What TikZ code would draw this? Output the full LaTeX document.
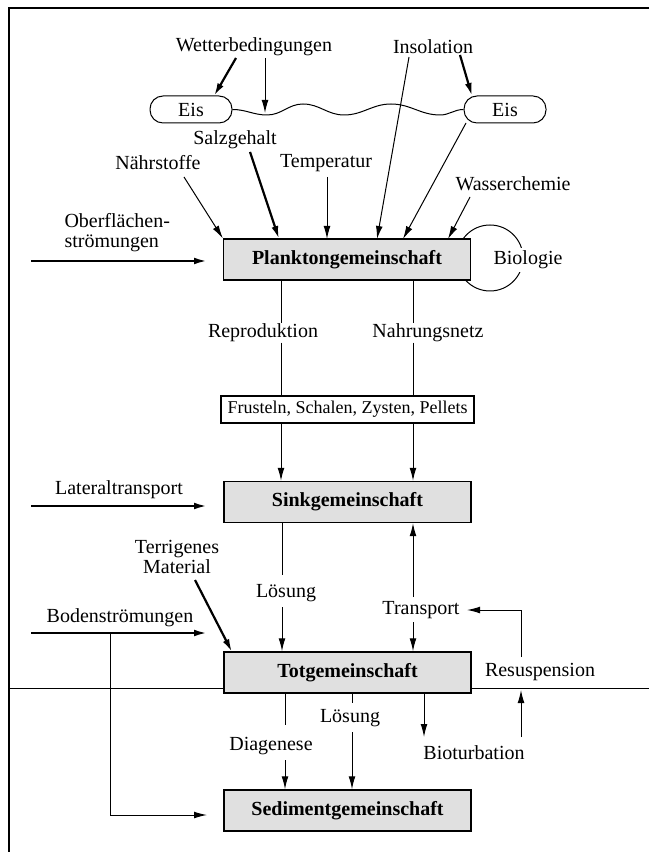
\documentclass[tikz,border=0pt]{standalone}
\usepackage{fontspec}
\setmainfont{Liberation Serif}
\usetikzlibrary{arrows.meta,calc}
\begin{document}
\begin{tikzpicture}[x=0.5pt,y=-0.5pt,
  >={Latex[length=6.5pt,width=3.4pt]},
  every node/.style={font=\fontsize{10}{10}\selectfont, inner sep=0pt},
  every path/.style={line width=0.5pt},
  thickline/.style={line width=1.1pt},
  framel/.style={line width=0.8pt},
  box/.style={draw, line width=0.7pt, fill=black!12, minimum width=123.5pt, minimum height=20.5pt, font=\bfseries\fontsize{10}{10}\selectfont},
  smallbox/.style={draw, line width=0.6pt, fill=white, minimum width=126.5pt, minimum height=13.5pt, font=\fontsize{9}{10}\selectfont},
  eis/.style={draw, line width=0.5pt, rounded corners=6.5pt, minimum width=41pt, minimum height=13.5pt},
  lab/.style={align=center},
]
\useasboundingbox (0,0) rectangle (649,854);
% frame and ground line
\coordinate (tr) at (649,8);
\coordinate (tl) at (9,8);
\coordinate (bl) at (9,852);
\draw[framel] (tr) -- (tl) -- (bl);
\coordinate (gL) at (9,688);
\coordinate (gR) at (649,688);
\draw (gL) -- (gR);
% biology loop
\node[circle, draw, line width=0.5pt, minimum size=33pt] (bioc) at (490,258) {};
\node[fill=white, inner sep=1.5pt] (bio) at (528,260) {Biologie};
% column coordinates
\coordinate (cA) at (281,0);
\coordinate (cB) at (413,0);
\coordinate (cL) at (282,0);
\coordinate (cD) at (285,0);
\coordinate (cE) at (352,0);
\coordinate (cF) at (424,0);
\coordinate (cR) at (521,0);
% boxes
\node[box] (plankton) at (347,259.5) {Planktongemeinschaft};
\node[smallbox] (frust) at (347.5,409.5) {Frusteln, Schalen, Zysten, Pellets};
\node[box] (sink) at (347.5,502) {Sinkgemeinschaft};
\node[box] (tot) at (347.5,672.5) {Totgemeinschaft};
\node[box] (sed) at (347.5,810.5) {Sedimentgemeinschaft};
% ice
\node[eis] (eisL) at (191,109.5) {Eis};
\node[eis] (eisR) at (505,109.5) {Eis};
\coordinate (w1) at (267,115);
\coordinate (w2) at (303,104);
\coordinate (w3) at (344,115);
\coordinate (w4) at (391,104);
\coordinate (w5) at (440,115);
\draw (eisL.east) to[out=0,in=180] (w1) to[out=0,in=180] (w2) to[out=0,in=180] (w3)
  to[out=0,in=180] (w4) to[out=0,in=180] (w5) to[out=0,in=180] (eisR.west);
% labels
\node (wetter) at (254,47) {Wetterbedingungen};
\node (insol) at (433,47) {Insolation};
\node (salz) at (235,140) {Salzgehalt};
\node (naehr) at (158,163) {Nährstoffe};
\node (temp) at (326,163) {Temperatur};
\node (wasser) at (513,184) {Wasserchemie};
\node[align=left, anchor=west] (ober) at (64,233) {Oberflächen-\\strömungen};
\node (repro) at (263,333) {Reproduktion};
\node (nahr) at (428,333) {Nahrungsnetz};
\node (lat) at (119,490) {Lateraltransport};
\node[lab] (terr) at (177,557) {Terrigenes\\Material};
\node (loes1) at (286,593) {Lösung};
\node (trans) at (421,610) {Transport};
\node (boden) at (120,618) {Bodenströmungen};
\node (resus) at (540,672) {Resuspension};
\node (loes2) at (350,718) {Lösung};
\node (diag) at (271,746) {Diagenese};
\node (biot) at (474,753) {Bioturbation};
% top inputs
\coordinate (wa) at (236,58);
\coordinate (wat) at (214,96);
\coordinate (wb) at (265,58);
\coordinate (wbt) at (265,113);
\draw[->,thickline] (wa) -- (wat);
\draw[->] (wb) -- (wbt);
\coordinate (ia) at (409,57);
\coordinate (iat) at (377,239);
\coordinate (ib) at (460,55);
\coordinate (ibt) at (472,96);
\draw[->] (ia) -- (iat);
\draw[->,thickline] (ib) -- (ibt);
\coordinate (ea) at (466,123);
\coordinate (eat) at (403,239);
\draw[->] (ea) -- (eat);
\coordinate (sa) at (250,152);
\coordinate (sat) at (279,239);
\draw[->,thickline] (sa) -- (sat);
\coordinate (na) at (184,177);
\draw[->] (na) -- (plankton.north west);
\coordinate (ta) at (327,177);
\coordinate (tat) at (327,239);
\draw[->] (ta) -- (tat);
\coordinate (ca) at (470,197);
\coordinate (cat) at (448,239);
\draw[->] (ca) -- (cat);
\coordinate (oa) at (31,261);
\coordinate (oat) at (207,261);
\draw[->,thickline] (oa) -- (oat);
% plankton -> frusteln
\draw (plankton.south -| cA) -- (repro.north -| cA);
\draw (repro.south -| cA) -- (frust.north -| cA);
\draw (plankton.south -| cB) -- (nahr.north -| cB);
\draw (nahr.south -| cB) -- (frust.north -| cB);
% frusteln -> sink
\draw[->] (frust.south -| cA) -- (sink.north -| cA);
\draw[->] (frust.south -| cB) -- (sink.north -| cB);
\coordinate (la) at (31,506);
\coordinate (lat2) at (207,506);
\draw[->,thickline] (la) -- (lat2);
% sink -> tot
\coordinate (l1a) at (282,575);
\coordinate (l1b) at (282,607);
\draw (sink.south -| cL) -- (l1a);
\draw[->] (l1b) -- (tot.north -| cL);
\coordinate (tra) at (413,597);
\coordinate (trb) at (413,622);
\draw[->] (tra) -- (sink.south -| cB);
\draw[->] (trb) -- (tot.north -| cB);
\coordinate (ga) at (195,580);
\coordinate (gat) at (232,652);
\draw[->,thickline] (ga) -- (gat);
\coordinate (ra) at (521,657);
\coordinate (rb) at (521,610);
\coordinate (rt) at (467,610);
\draw[->] (ra) -- (rb) -- (rt);
\coordinate (rc) at (521,737);
\coordinate (rct) at (521,690);
\draw[->] (rc) -- (rct);
% bodenstroemungen
\coordinate (ba) at (31,633);
\coordinate (bat) at (207,633);
\coordinate (bb) at (110,633);
\coordinate (bc) at (110,815);
\coordinate (bct) at (207,815);
\draw[->,thickline] (ba) -- (bat);
\draw[->] (bb) -- (bc) -- (bct);
% tot -> sediment
\coordinate (da) at (285,725);
\coordinate (db) at (285,760);
\draw (tot.south -| cD) -- (da);
\draw[->] (db) -- (sed.north -| cD);
\coordinate (ec) at (352,703);
\coordinate (ed) at (352,732);
\draw (tot.south -| cE) -- (ec);
\draw[->] (ed) -- (sed.north -| cE);
\coordinate (bit) at (424,737);
\draw[->] (tot.south -| cF) -- (bit);
\end{tikzpicture}
\end{document}
